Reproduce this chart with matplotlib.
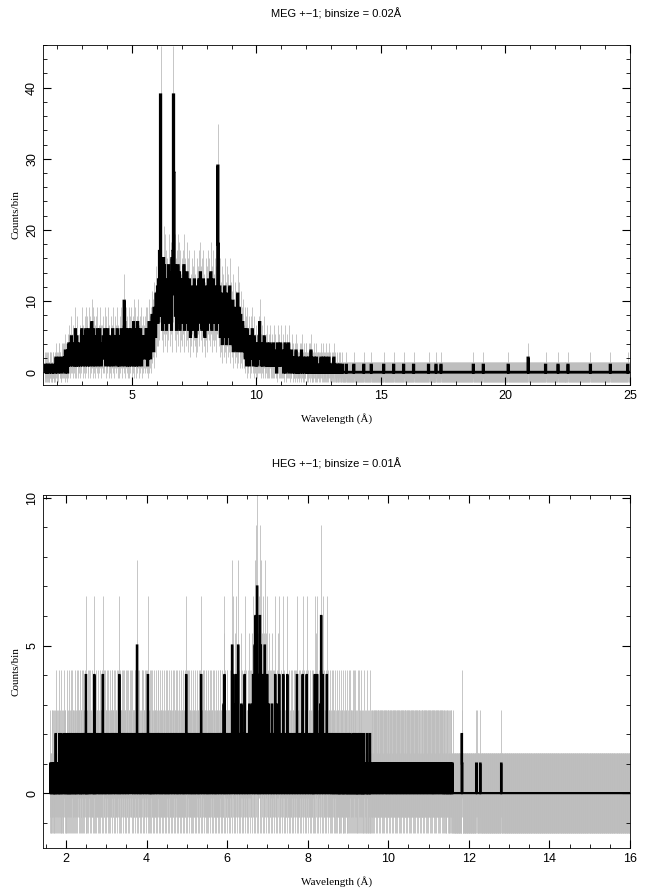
import numpy as np
import matplotlib
matplotlib.use("Agg")
import matplotlib.pyplot as plt
from matplotlib.ticker import MultipleLocator

# ---------------- MEG data (bin 0.02 A, starting 1.50 A) ----------------
meg_start, meg_bin, meg_end = 1.50, 0.02, 25.0
meg_rows = [
"0 1 1 0 0 1 1 0 0 0 1 1 1 0 0 0 1 1 0 0 0 1 2 1 1",
"0 0 1 2 2 1 1 0 0 1 2 2 1 1 2 0 3 1 2 1 0 3 1 4 2",
"3 1 2 5 2 3 1 4 3 2 1 6 3 1 5 4 2 1 2 3 4 1 3 2 6",
"4 1 4 3 2 5 1 6 2 5 4 1 2 6 4 1 5 2 3 7 3 1 6 2 5",
"4 1 3 5 2 6 3 1 4 2 6 3 4 1 3 4 2 5 3 2 6 4 1 5 2",
"3 6 4 1 4 3 2 5 1 4 3 6 2 3 1 5 3 2 4 3 6 1 4 3 1",
"5 2 3 6 4 1 5 3 2 10 7 1 3 6 2 5 1 3 6 1 5 2 4 6 1",
"4 5 2 7 1 4 6 3 1 5 2 7 3 1 4 5 2 6 3 1 4 2 5 3 4",
"5 2 3 6 2 6 1 4 2 7 3 5 2 6 4 8 5 7 3 9 6 8 5 11 7",
"9 12 7 13 8 17 11 39 14 8 11 6 12 16 9 15 7 9 13 6 12 8 10 15 11",
"7 12 9 14 6 16 11 17 39 28 12 15 8 12 6 13 9 15 7 11 14 6 13 10 8",
"12 7 13 9 15 6 10 12 7 10 14 8 12 6 9 13 8 5 10 7 12 9 6 11 8",
"13 7 10 5 8 12 6 11 9 13 7 10 14 8 11 6 12 9 13 7 10 5 9 12 8",
"11 6 9 13 8 12 7 10 14 9 6 11 8 13 7 10 12 8 11 6 9 12 29 18 10",
"7 12 5 9 6 11 4 8 10 5 7 12 6 9 4 11 7 5 10 6 8 12 4 7 9",
"5 8 10 3 7 6 4 9 5 8 3 7 11 4 6 9 3 5 8 4 6 3 7 5 4",
"3 6 2 5 4 1 6 3 2 5 4 1 3 5 2 4 6 2 3 1 5 3 2 4 1",
"3 1 2 4 2 5 7 2 3 1 2 4 1 2 3 5 2 1 3 2 1 4 2 1 3",
"1 3 4 1 2 1 3 2 1 4 1 2 3 1 2 0 1 4 2 1 3 1 2 4 1",
"1 2 3 1 0 1 2 4 1 0 1 3 1 2 4 1 0 2 1 1 3 2 0 2 1",
"1 2 0 1 3 2 0 1 1 0 1 2 1 0 2 3 1 0 1 2 1 0 1 1 2",
"2 0 1 0 1 2 1 0 2 3 1 0 0 1 0 2 1 0 1 0 2 1 0 1 1",
"1 0 1 0 2 1 0 1 0 2 0 1 0 1 2 0 1 0 1 0 2 1 0 1 0",
"0 1 0 0 1 2 0 0 1 0 0 1 0 0 0 1 0 1 0 0 0 0 1 0 0",
]
meg_sparse_wl = [13.6, 13.9, 14.3, 14.6, 15.1, 15.5, 15.9, 16.3, 16.9, 17.2, 17.4, 18.7,
                 19.1, 20.1, 20.9, 21.6, 22.1, 22.5, 23.4, 24.2, 24.9]
meg_sparse_n = [1, 1, 1, 1, 1, 1, 1, 1, 1, 1, 1, 1, 1, 1, 2, 1, 1, 1, 1, 1, 1]

# ---------------- HEG data (bin 0.01 A, starting 1.60 A) ----------------
heg_start, heg_bin, heg_end = 1.60, 0.01, 16.0
heg_rows = [
"01001100101010210100110201002101001210100201102010",
"12010210110201102012101102011020121012040102101201",
"21011201204011021102110120112014021102101120211012",
"01120211021201120112014021102110212011201120211021",
"11202110112021105120112011021202110211021204110210",
"20112011021102110212011201102110211012011201102110",
"21102110211021102101120112011201102110412021102110",
"12011201102110211012011204110211021102110120112011",
"20112011201102110211021201120113042011202110112021",
"10514201130412011502110213021102140112011202130211",
"20314031506140713042061503120413051203140213021102",
"13021102140112031204110211021402110112041102110211",
"02110211021204110211021102140112011204110211021102",
"11020114031204110211031602140112011204110211021102",
"10210110210210110201021011020102101102010210201011",
"02010210201010201021010201010201000102010010201001",
"11011011101101110110111011011101110110111011011101",
"10111011011101101110110111011011101101110110111011",
"01110110111011011101101110110111011011101101110110",
"11011011101101110110111011010110010110100101101001",
]
heg_sparse_wl = [11.82, 11.83, 12.18, 12.19, 12.28, 12.80]
heg_sparse_n = [2, 1, 1, 1, 1, 1]


def build(start, binw, end, rows, sp_wl, sp_n, split):
    nb = int(round((end - start) / binw))
    counts = np.zeros(nb)
    if split:
        vals = [int(v) for r in rows for v in r.split()]
    else:
        vals = [int(c) for r in rows for c in r]
    vals = vals[:nb]
    counts[:len(vals)] = vals
    for w, n in zip(sp_wl, sp_n):
        i = int(round((w - start) / binw))
        if 0 <= i < nb:
            counts[i] = n
    edges = start + binw * np.arange(nb + 1)
    return edges, counts


def panel(ax, edges, counts, title, xlim, ylim, xmaj, xmin, ymaj, ymin, lw):
    centers = 0.5 * (edges[:-1] + edges[1:])
    err = 0.5 + np.sqrt(counts + 0.75)
    ax.vlines(centers, counts - err, counts + err, color="#bdbdbd", lw=0.6, zorder=1)
    ax.stairs(counts, edges, color="black", lw=lw, zorder=2)
    ax.set_xlim(*xlim)
    ax.set_ylim(*ylim)
    ax.xaxis.set_major_locator(MultipleLocator(xmaj))
    ax.xaxis.set_minor_locator(MultipleLocator(xmin))
    ax.yaxis.set_major_locator(MultipleLocator(ymaj))
    ax.yaxis.set_minor_locator(MultipleLocator(ymin))
    ax.tick_params(which="both", direction="in", top=True, right=True, labelsize=9)
    ax.tick_params(which="major", length=6)
    ax.tick_params(which="minor", length=3)
    for lab in ax.get_yticklabels():
        lab.set_rotation(90)
        lab.set_va("center")
    ax.set_title(title, fontsize=8, family="Liberation Sans", pad=20)
    ax.set_xlabel("Wavelength (Å)", fontsize=8, family="Liberation Serif", labelpad=8)
    ax.set_ylabel("Counts/bin", fontsize=8, family="Liberation Serif")
    for s in ax.spines.values():
        s.set_linewidth(0.6)


plt.rcParams["font.family"] = ["Liberation Sans", "DejaVu Sans"]
fig = plt.figure(figsize=(6.49, 8.91), dpi=100)
ax1 = fig.add_axes([43/649, 1-385/891, 587/649, 340/891])
ax2 = fig.add_axes([43/649, 1-848/891, 587/649, 353/891])

e1, c1 = build(meg_start, meg_bin, meg_end, meg_rows, meg_sparse_wl, meg_sparse_n, True)
e2, c2 = build(heg_start, heg_bin, heg_end, heg_rows, heg_sparse_wl, heg_sparse_n, False)

panel(ax1, e1, c1, "MEG +−1; binsize = 0.02Å", (1.43, 25), (-1.8, 46), 5, 1, 10, 2, 2.0)
panel(ax2, e2, c2, "HEG +−1; binsize = 0.01Å", (1.43, 16), (-1.86, 10.1), 2, 0.5, 5, 1, 1.6)

fig.savefig("out.png", dpi=100)
